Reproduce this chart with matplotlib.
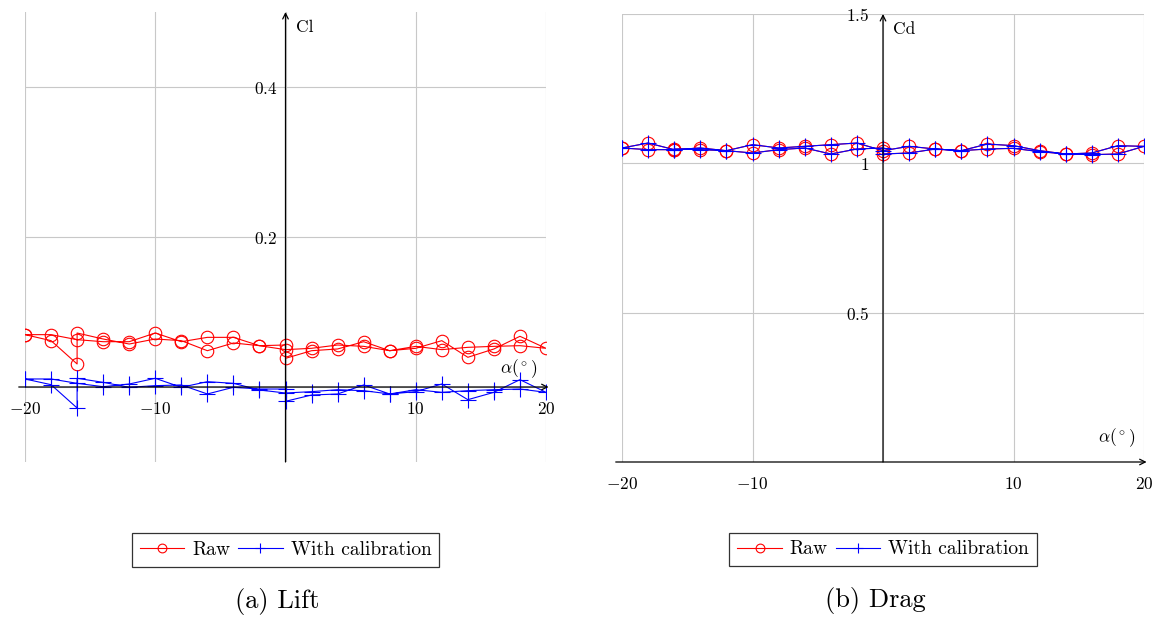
import matplotlib
matplotlib.use('Agg')
import matplotlib.pyplot as plt

plt.rcParams['font.family'] = ['cmr10', 'DejaVu Serif']
plt.rcParams['mathtext.fontset'] = 'cm'
plt.rcParams['axes.unicode_minus'] = False

# angle of attack, sweep up then back down (repeated points at -16 and 0)
alpha = [-20, -18, -16, -16, -14, -12, -10, -8, -6, -4, -2, 0, 0, 2, 4, 6, 8, 10, 12, 14, 16, 18, 20,
         18, 16, 14, 12, 10, 8, 6, 4, 2, 0, -2, -4, -6, -8, -10, -12, -14, -16, -18, -20]

cl_raw = [0.0698, 0.0618, 0.0307, 0.0720, 0.0640, 0.0573, 0.0640, 0.0618, 0.0484, 0.0587, 0.0551,
          0.0560, 0.0382, 0.0484, 0.0507, 0.0604, 0.0484, 0.0516, 0.0618, 0.0396, 0.0507, 0.0676, 0.0516,
          0.0551, 0.0542, 0.0529, 0.0498, 0.0542, 0.0484, 0.0542, 0.0560, 0.0516, 0.0498, 0.0551,
          0.0662, 0.0662, 0.0604, 0.0720, 0.0604, 0.0604, 0.0631, 0.0698, 0.0698]
cl_cal = [0.0107, 0.0031, -0.0280, 0.0116, 0.0062, -0.0004, 0.0018, 0.0027, -0.0093, -0.0004, -0.0027,
          -0.0027, -0.0191, -0.0107, -0.0093, 0.0027, -0.0093, -0.0062, 0.0040, -0.0169, -0.0071, 0.0098, -0.0071,
          -0.0027, -0.0036, -0.0049, -0.0071, -0.0036, -0.0093, -0.0049, -0.0036, -0.0062, -0.0080, -0.0040,
          0.0049, 0.0071, -0.0004, 0.0116, 0.0040, 0.0004, 0.0049, 0.0107, 0.0107]

cd_raw = [1.0514, 1.0458, 1.0458, 1.0480, 1.0458, 1.0424, 1.0346, 1.0458, 1.0514, 1.0313, 1.0480,
          1.0514, 1.0313, 1.0346, 1.0480, 1.0424, 1.0647, 1.0591, 1.0424, 1.0313, 1.0290, 1.0313, 1.0569,
          1.0591, 1.0346, 1.0313, 1.0391, 1.0502, 1.0480, 1.0424, 1.0480, 1.0569, 1.0424, 1.0680,
          1.0625, 1.0569, 1.0514, 1.0625, 1.0424, 1.0514, 1.0458, 1.0680, 1.0514]
cd_cal = [1.0514, 1.0458, 1.0458, 1.0480, 1.0458, 1.0424, 1.0346, 1.0458, 1.0514, 1.0313, 1.0480,
          1.0514, 1.0313, 1.0346, 1.0480, 1.0424, 1.0647, 1.0591, 1.0424, 1.0313, 1.0290, 1.0313, 1.0569,
          1.0591, 1.0346, 1.0313, 1.0391, 1.0502, 1.0480, 1.0424, 1.0480, 1.0569, 1.0424, 1.0680,
          1.0625, 1.0569, 1.0514, 1.0625, 1.0424, 1.0514, 1.0458, 1.0680, 1.0514]

fs = 12.5
fig = plt.figure(figsize=(11.55, 6.17), dpi=100)
ax1 = fig.add_axes([25 / 1155, 155 / 617, 521 / 1155, 450 / 617])
ax2 = fig.add_axes([622 / 1155, 155 / 617, 522 / 1155, 448 / 617])


def style_axis(ax, ylim, yticks, ylabels, ylab, xlab_y):
    ax.set_xlim(-20, 20)
    ax.set_ylim(*ylim)
    ax.spines['top'].set_visible(False)
    ax.spines['right'].set_visible(False)
    # middle axis lines: tick labels follow the spines at zero
    ax.spines['left'].set_position(('data', 0))
    ax.spines['bottom'].set_position(('data', 0))
    ax.spines['left'].set_color('none')
    ax.spines['bottom'].set_color('none')
    ax.set_xticks([-20, -10, 0, 10, 20])
    ax.set_xticklabels([r'$-20$', r'$-10$', '', r'$10$', r'$20$'], fontsize=fs)
    ax.set_yticks(yticks)
    ax.set_yticklabels(ylabels, fontsize=fs)
    ax.tick_params(axis='x', length=0, pad=10)
    ax.tick_params(axis='y', length=0, pad=6)
    ax.grid(True, color='#c8c8c8', linewidth=0.8)
    ax.set_axisbelow(True)
    # axis lines with arrows
    ax.annotate('', xy=(1.005, 0), xytext=(-0.012, 0), xycoords=('axes fraction', 'data'),
                textcoords=('axes fraction', 'data'),
                arrowprops=dict(arrowstyle='->', color='black', lw=0.9, shrinkA=0, shrinkB=0))
    ax.annotate('', xy=(0, 1.0), xytext=(0, 0.0), xycoords=('data', 'axes fraction'),
                textcoords=('data', 'axes fraction'),
                arrowprops=dict(arrowstyle='->', color='black', lw=0.9, shrinkA=0, shrinkB=0))
    ax.text(0.8, 0.965, ylab, transform=ax.get_xaxis_transform(), fontsize=fs,
            ha='left', va='center')
    ax.text(17.9, xlab_y, r'$\alpha(^\circ)$', fontsize=fs, ha='center', va='bottom')


# Lift
ax1.plot(alpha, cl_raw, color='red', lw=0.8, marker='o', ms=9, mfc='none', mew=0.8, label='Raw')
ax1.plot(alpha, cl_cal, color='blue', lw=0.8, marker='+', ms=11, mew=0.8, label='With calibration')
style_axis(ax1, (-0.1, 0.5), [0, 0.2, 0.4], ['', r'$0.2$', r'$0.4$'], 'Cl', 0.009)

# Drag
ax2.plot(alpha, cd_raw, color='red', lw=0.8, marker='o', ms=9, mfc='none', mew=0.8, label='Raw')
ax2.plot(alpha, cd_cal, color='blue', lw=0.8, marker='+', ms=11, mew=0.8, label='With calibration')
style_axis(ax2, (0, 1.5), [0.5, 1.0, 1.5], [r'$0.5$', r'$1$', r'$1.5$'], 'Cd', 0.045)
ax2.tick_params(axis='y', pad=10)

for ax, cap in [(ax1, '(a) Lift'), (ax2, '(b) Drag')]:
    leg = ax.legend(loc='upper center', bbox_to_anchor=(0.5, -0.158), ncol=2, fontsize=14,
                    frameon=True, fancybox=False, edgecolor='black', handlelength=2.3,
                    columnspacing=0.4, handletextpad=0.4, borderpad=0.4, borderaxespad=0,
                    markerscale=0.7)
    leg.get_frame().set_linewidth(0.9)
    ax.text(0.485, -0.31, cap, transform=ax.transAxes, fontsize=19, ha='center', va='center')

fig.savefig('out.png', dpi=100)
